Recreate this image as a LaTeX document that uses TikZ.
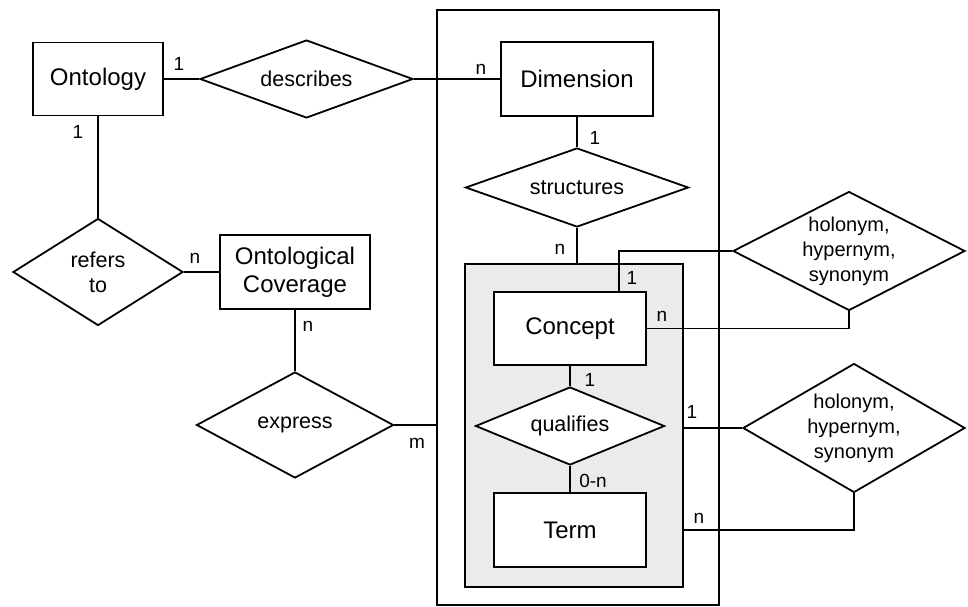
\documentclass[tikz,border=0pt]{standalone}
\usepackage{fontspec}
\setmainfont{Liberation Sans}
\usetikzlibrary{shapes.geometric}
\begin{document}
\begin{tikzpicture}[x=1pt,y=-1pt,
  ent/.style={draw, line width=1.8pt, fill=white, inner sep=2pt, font=\fontsize{24}{28}\selectfont, align=center},
  rel/.style={draw, diamond, line width=1.8pt, fill=white, inner sep=0pt, aspect=1},
  reltext/.style={font=\fontsize{21.5}{25}\selectfont, align=center, inner sep=0pt},
  card/.style={font=\fontsize{19}{20}\selectfont, inner sep=0pt},
  conn/.style={line width=1.8pt},
  frame/.style={draw, line width=1.6pt, inner sep=0pt}]
\useasboundingbox (0,0) rectangle (968,607);
% containers
\node[frame, minimum width=282, minimum height=595] (outer) at (578,307.5) {};
\node[frame, fill=black!8, minimum width=218, minimum height=323] (inner) at (574,425.5) {};
% entities
\node[ent, minimum width=130, minimum height=73] (ont) at (98,79) {Ontology};
\node[ent, minimum width=152, minimum height=74] (dim) at (577,79) {Dimension};
\node[ent, minimum width=150, minimum height=74] (oc) at (295,272) {Ontological\\Coverage};
\node[ent, minimum width=152, minimum height=73] (con) at (570,328.5) {Concept};
\node[ent, minimum width=152, minimum height=74] (term) at (570,530) {Term};
% relationships
\node[rel, minimum width=213, minimum height=78] (desc) at (306.5,79) {};
\node[reltext] (descT) at (desc) {describes};
\node[rel, minimum width=170, minimum height=107] (ref) at (98,272) {};
\node[reltext] (refT) at (ref) {refers\\to};
\node[rel, minimum width=197, minimum height=106] (exp) at (295,425) {};
\node[reltext] (expT) at (exp) {express};
\node[rel, minimum width=223, minimum height=79] (str) at (577,187.5) {};
\node[reltext] (strT) at (str) {structures};
\node[rel, minimum width=189, minimum height=78] (qual) at (570,426) {};
\node[reltext] (qualT) at (qual) {qualifies};
\node[rel, minimum width=232, minimum height=119] (h1) at (849,251) {};
\node[reltext, font=\fontsize{20}{25}\selectfont] (h1T) at (h1) {holonym,\\hypernym,\\synonym};
\node[rel, minimum width=222, minimum height=129] (h2) at (854,428) {};
\node[reltext, font=\fontsize{20}{25}\selectfont] (h2T) at (h2) {holonym,\\hypernym,\\synonym};
% connectors
\draw[conn] (ont.east) -- (desc.west);
\draw[conn] (desc.east) -- (dim.west);
\draw[conn] (ont.south) -- (ref.north);
\draw[conn] (ref.east) -- (oc.west);
\draw[conn] (oc.south) -- (exp.north);
\draw[conn] (exp.east) -- (exp.east -| outer.west);
\draw[conn] (dim.south) -- (str.north);
\draw[conn] (str.south) -- (str.south |- inner.north);
\draw[conn] (con.south) -- (qual.north);
\draw[conn] (qual.south) -- (term.north);
\coordinate (c1) at ([xshift=49pt]con.north);
\draw[conn] (h1.west) -| (c1);
\draw[conn] (h1.south) |- (con.east);
\draw[conn] (h2.west) -- (h2.west -| inner.east);
\draw[conn] (h2.south) |- (term.east -| inner.east);
% cardinalities
\node[card] (k1) at (179,64) {1};
\node[card] (k2) at (78,132) {1};
\node[card] (k3) at (481,69) {n};
\node[card] (k4) at (595,138) {1};
\node[card] (k5) at (560,249) {n};
\node[card] (k6) at (195,258) {n};
\node[card] (k7) at (308,326) {n};
\node[card] (k8) at (417,443) {m};
\node[card] (k9) at (590,380) {1};
\node[card] (k10) at (593,481) {0-n};
\node[card] (k11) at (632,278) {1};
\node[card] (k12) at (662,316) {n};
\node[card] (k13) at (692,412) {1};
\node[card] (k14) at (699,518) {n};
\end{tikzpicture}
\end{document}
